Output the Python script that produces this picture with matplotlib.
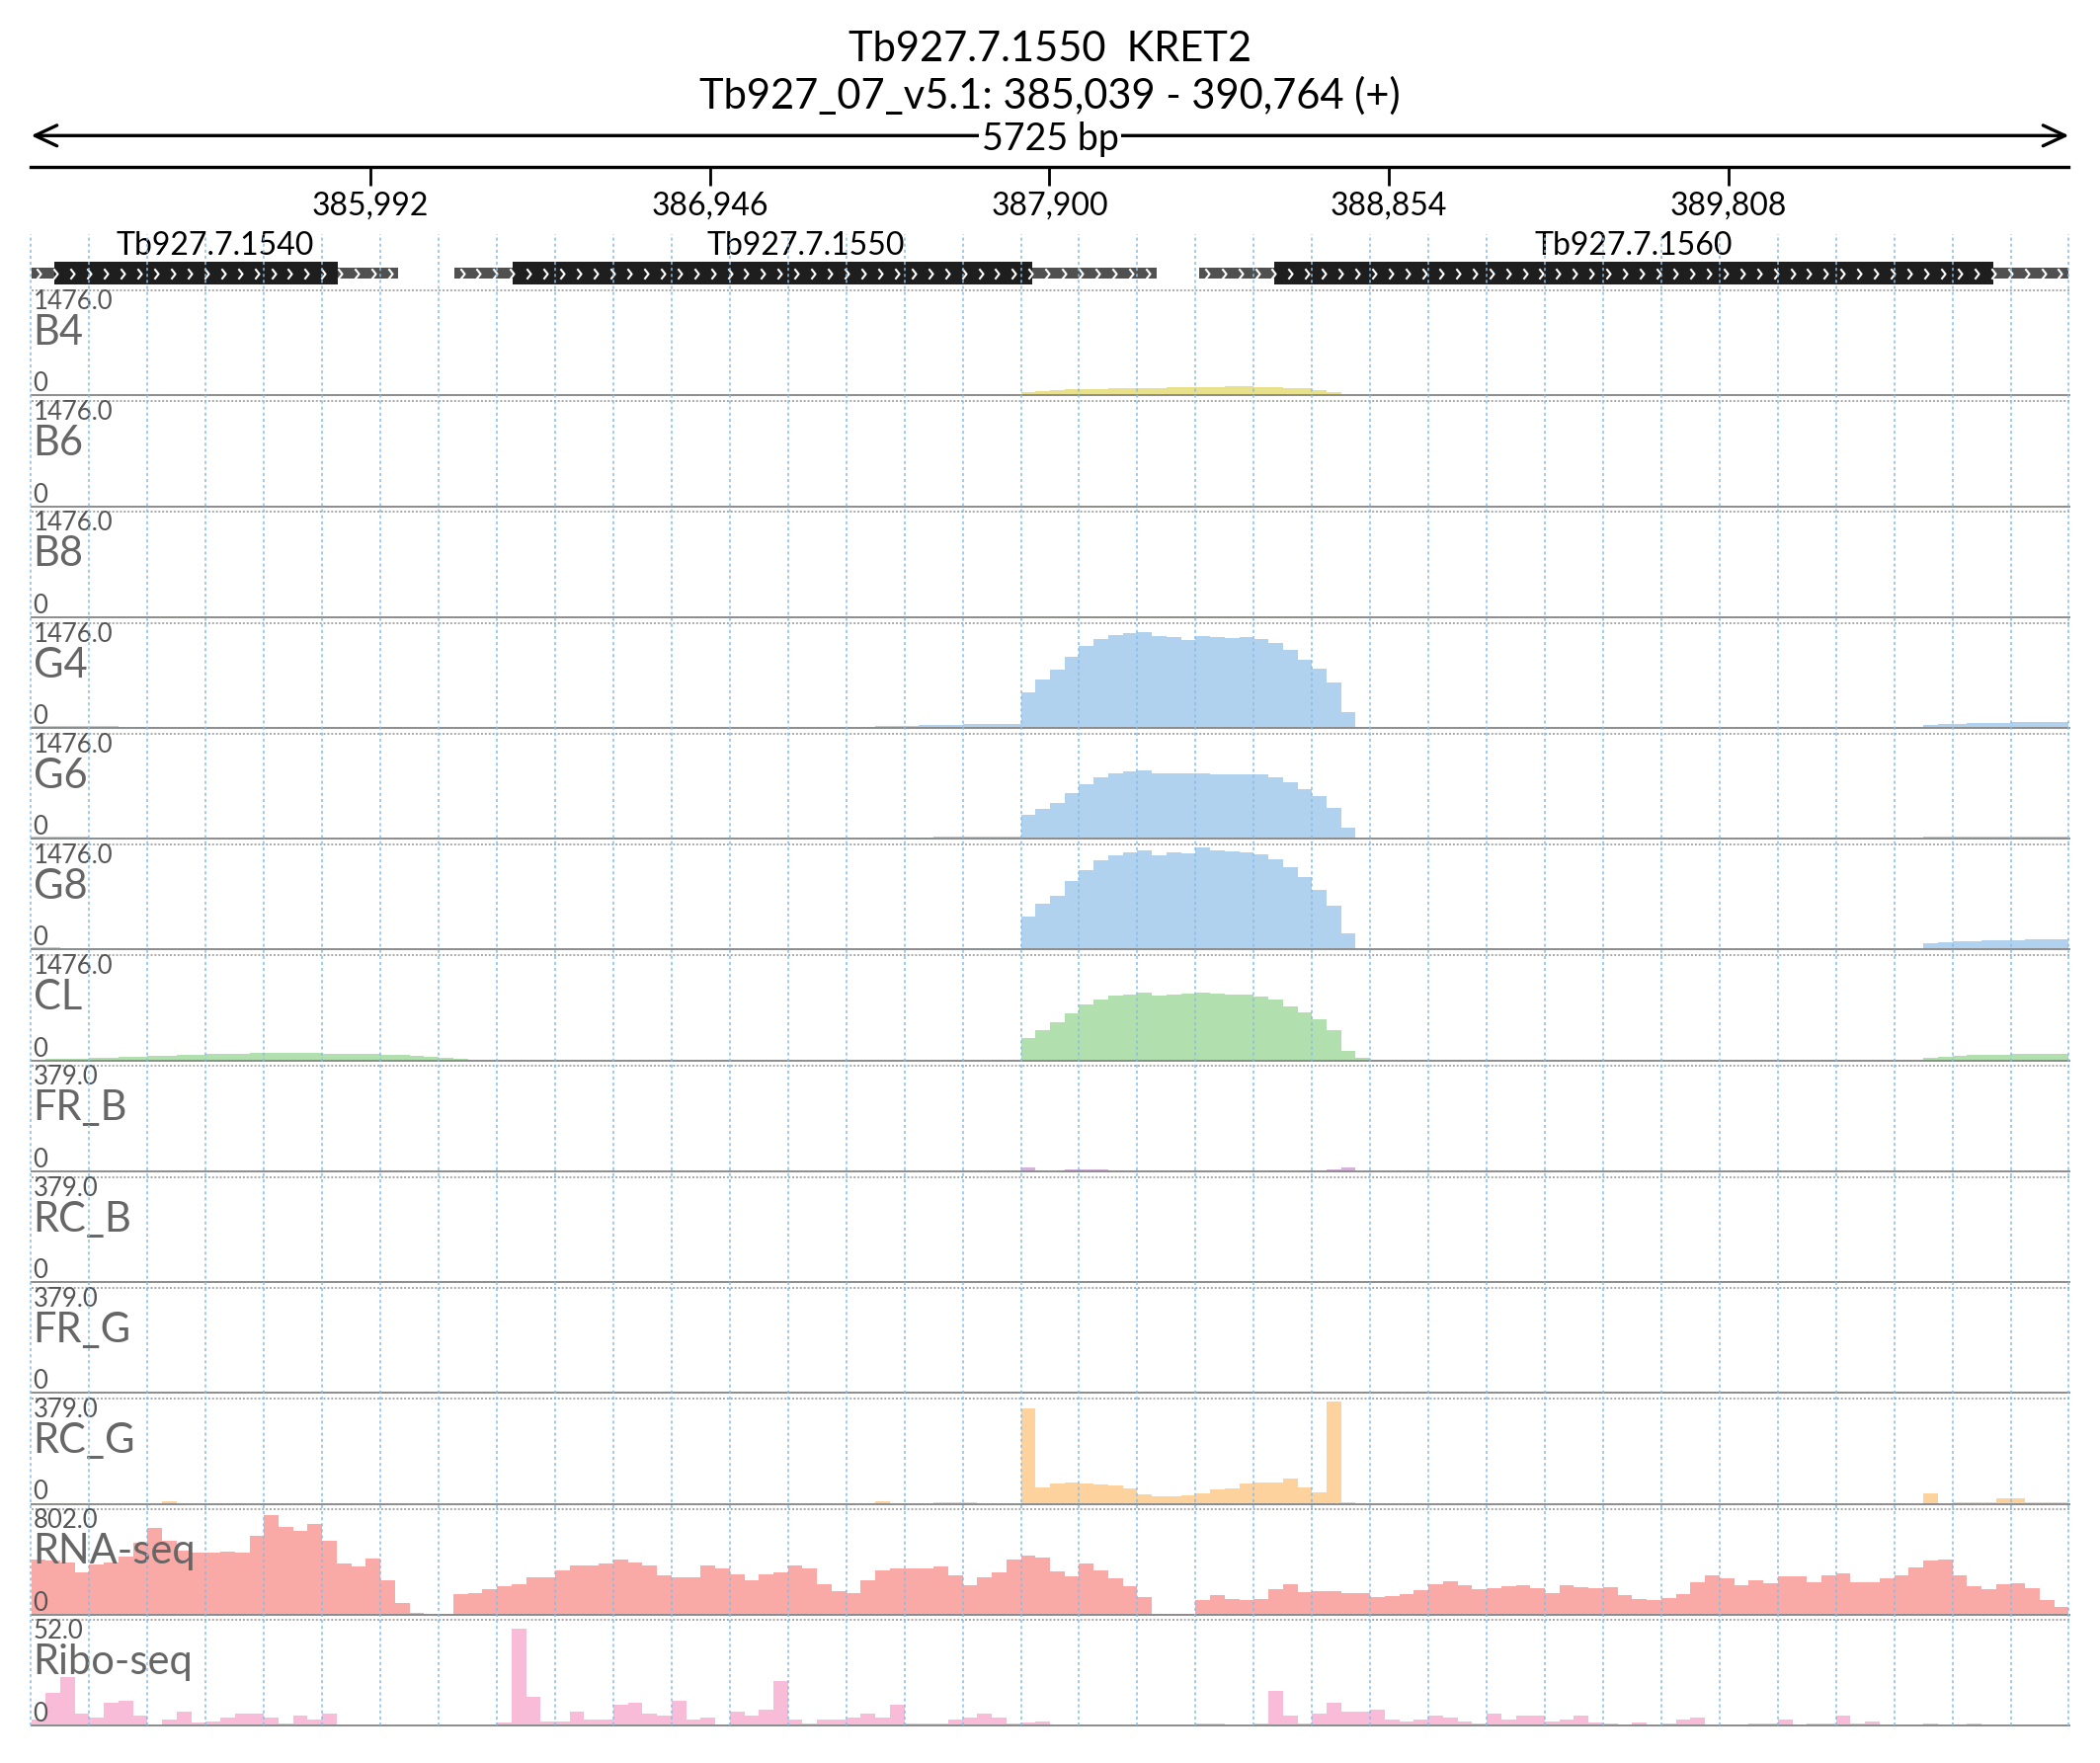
import numpy as np
import matplotlib
matplotlib.use('Agg')
import matplotlib.pyplot as plt
from matplotlib.path import Path

plt.rcParams['font.family'] = ['Lato', 'DejaVu Sans']

# region shown
chrom = 'Tb927_07_v5.1'
region_start = 385039
region_end = 390764
strand = '+'
title_gene = 'Tb927.7.1550  KRET2'
ruler_ticks = [385992, 386946, 387900, 388854, 389808]

# genes: full extent (with UTRs) and coding part
gene_names = ['Tb927.7.1540', 'Tb927.7.1550', 'Tb927.7.1560']
gene_starts = [385039, 386227, 388320]
gene_ends = [386071, 388201, 390764]
cds_starts = [385103, 386392, 388532]
cds_ends = [385900, 387852, 390552]

# coverage, 140 equal bins across the region
b4 = [4, 4, 4, 4, 4, 4, 4, 4, 3, 3, 3, 3, 2, 2, 2, 2, 2, 2, 2, 2,
      2, 2, 2, 2, 2, 2, 2, 2, 1, 1, 1, 1, 1, 1, 1, 1, 1, 1, 1, 1,
      1, 1, 1, 1, 1, 1, 1, 1, 1, 1, 1, 1, 1, 1, 1, 1, 2, 2, 3, 3,
      3, 4, 4, 5, 5, 5, 6, 6, 45, 60, 75, 85, 92, 96, 100, 103, 106, 110, 116, 121,
      123, 124, 125, 125, 124, 115, 105, 98, 80, 52, 25, 6, 2, 2, 2, 2, 1, 1, 1, 1,
      1, 1, 1, 1, 1, 1, 1, 1, 1, 1, 1, 1, 1, 1, 1, 1, 1, 1, 1, 1,
      2, 2, 2, 2, 2, 2, 2, 2, 3, 4, 6, 7, 8, 8, 9, 9, 9, 9, 8, 8]
b6 = [1, 1, 1, 1, 1, 1, 1, 1, 1, 1, 1, 1, 1, 1, 1, 1, 1, 1, 1, 1,
      1, 1, 1, 1, 1, 1, 1, 1, 1, 1, 1, 1, 1, 1, 1, 1, 1, 1, 1, 1,
      1, 1, 1, 1, 1, 1, 1, 1, 1, 1, 1, 1, 1, 1, 1, 1, 1, 1, 1, 1,
      1, 1, 1, 1, 1, 1, 1, 1, 6, 7, 8, 8, 8, 9, 9, 9, 9, 9, 9, 9,
      9, 9, 9, 9, 9, 8, 8, 7, 6, 5, 3, 1, 1, 1, 1, 1, 1, 1, 1, 1,
      1, 1, 1, 1, 1, 1, 1, 1, 1, 1, 1, 1, 1, 1, 1, 1, 1, 1, 1, 1,
      1, 1, 1, 1, 1, 1, 1, 1, 2, 3, 5, 6, 7, 7, 8, 8, 8, 8, 8, 8]
b8 = [1, 1, 1, 1, 1, 1, 1, 3, 5, 6, 6, 5, 3, 1, 1, 1, 1, 1, 1, 1,
      1, 1, 1, 1, 1, 1, 1, 1, 1, 1, 1, 1, 1, 1, 1, 1, 1, 1, 1, 1,
      1, 1, 1, 1, 1, 1, 1, 1, 1, 1, 1, 1, 1, 1, 1, 1, 1, 1, 1, 1,
      1, 1, 1, 1, 1, 1, 1, 1, 10, 12, 13, 14, 14, 14, 15, 15, 15, 15, 15, 15,
      15, 15, 15, 15, 15, 14, 13, 12, 11, 9, 6, 2, 1, 1, 1, 1, 1, 1, 1, 1,
      1, 1, 1, 1, 1, 1, 1, 1, 1, 1, 1, 1, 1, 1, 1, 1, 1, 1, 1, 1,
      1, 1, 1, 1, 1, 1, 1, 1, 1, 2, 3, 3, 4, 4, 4, 4, 4, 4, 4, 4]
g4 = [35, 35, 35, 33, 30, 25, 20, 15, 10, 8, 5, 4, 3, 3, 2, 2, 2, 2, 2, 2,
      2, 2, 2, 2, 2, 2, 2, 2, 2, 2, 2, 2, 2, 2, 2, 2, 2, 2, 2, 2,
      2, 2, 2, 2, 2, 2, 2, 2, 2, 2, 2, 2, 2, 2, 2, 2, 4, 10, 25, 32,
      35, 40, 45, 48, 50, 50, 52, 52, 500, 680, 820, 1000, 1150, 1250, 1300, 1335, 1345, 1290, 1270, 1235,
      1285, 1270, 1265, 1275, 1255, 1200, 1100, 960, 830, 640, 220, 10, 2, 2, 2, 2, 2, 2, 2, 2,
      2, 2, 2, 2, 2, 2, 2, 2, 2, 2, 2, 2, 2, 2, 2, 2, 2, 2, 2, 2,
      2, 2, 2, 2, 2, 2, 2, 3, 5, 20, 48, 55, 60, 65, 70, 75, 78, 80, 83, 86]
g6 = [30, 30, 28, 25, 20, 15, 10, 8, 6, 5, 4, 3, 3, 2, 2, 2, 2, 2, 2, 2,
      2, 2, 2, 2, 2, 2, 2, 2, 2, 2, 2, 2, 2, 2, 2, 2, 2, 2, 2, 2,
      2, 2, 2, 2, 2, 2, 2, 2, 2, 2, 2, 2, 2, 2, 2, 2, 3, 6, 12, 18,
      20, 24, 26, 28, 30, 30, 32, 32, 330, 420, 500, 640, 760, 870, 920, 940, 960, 915, 925, 915,
      915, 910, 905, 910, 905, 860, 790, 700, 600, 440, 150, 10, 2, 2, 2, 2, 2, 2, 2, 2,
      2, 2, 2, 2, 2, 2, 2, 2, 2, 2, 2, 2, 2, 2, 2, 2, 2, 2, 2, 2,
      2, 2, 2, 2, 2, 2, 2, 2, 3, 8, 25, 28, 30, 32, 34, 35, 36, 36, 35, 34]
g8 = [28, 28, 26, 22, 18, 14, 10, 8, 6, 5, 4, 3, 3, 2, 2, 2, 2, 2, 2, 2,
      2, 2, 2, 2, 2, 2, 2, 2, 2, 2, 2, 2, 2, 2, 2, 2, 2, 2, 2, 2,
      2, 2, 2, 2, 2, 2, 2, 2, 2, 2, 2, 2, 2, 2, 2, 2, 3, 5, 8, 10,
      12, 12, 14, 14, 14, 15, 15, 15, 470, 640, 760, 960, 1120, 1260, 1330, 1360, 1390, 1320, 1370, 1350,
      1430, 1390, 1375, 1360, 1335, 1270, 1160, 1020, 840, 620, 230, 15, 2, 2, 2, 2, 2, 2, 2, 2,
      2, 2, 2, 2, 2, 2, 2, 2, 2, 2, 2, 2, 2, 2, 2, 2, 2, 2, 2, 2,
      2, 2, 2, 2, 2, 2, 2, 3, 5, 20, 95, 105, 112, 120, 126, 132, 138, 142, 148, 152]
cl = [15, 20, 25, 30, 35, 42, 50, 58, 65, 72, 80, 85, 90, 95, 98, 100, 102, 104, 102, 100,
      98, 95, 92, 88, 82, 75, 65, 50, 38, 25, 12, 4, 1, 1, 1, 1, 1, 1, 1, 1,
      1, 1, 1, 1, 1, 1, 1, 1, 1, 1, 1, 1, 1, 1, 1, 1, 1, 1, 1, 1,
      1, 1, 1, 1, 1, 1, 1, 1, 320, 420, 530, 660, 780, 860, 910, 930, 950, 915, 925, 940,
      955, 935, 925, 925, 900, 850, 760, 680, 580, 420, 140, 40, 5, 1, 1, 1, 1, 1, 1, 1,
      1, 1, 1, 1, 1, 1, 1, 1, 1, 1, 1, 1, 1, 1, 1, 1, 1, 1, 1, 1,
      1, 1, 1, 1, 1, 1, 1, 1, 2, 10, 40, 55, 65, 75, 80, 85, 88, 90, 90, 88]
fr_b = [1, 1, 1, 1, 1, 1, 1, 1, 1, 1, 1, 1, 1, 1, 1, 1, 1, 1, 1, 1,
        1, 1, 1, 1, 1, 1, 1, 1, 1, 1, 1, 1, 1, 1, 1, 1, 1, 1, 1, 1,
        1, 1, 1, 1, 1, 1, 1, 1, 1, 1, 1, 1, 1, 1, 1, 1, 1, 1, 1, 1,
        1, 1, 1, 1, 1, 1, 1, 1, 15, 4, 4, 6, 6, 5, 4, 4, 3, 3, 3, 3,
        3, 3, 3, 3, 3, 3, 3, 3, 3, 8, 15, 1, 1, 1, 1, 1, 1, 1, 1, 1,
        1, 1, 1, 1, 1, 1, 1, 1, 1, 1, 1, 1, 1, 1, 1, 1, 1, 1, 1, 1,
        1, 1, 1, 1, 1, 1, 1, 1, 1, 1, 1, 1, 1, 1, 1, 1, 1, 1, 1, 1]
rc_b = [1, 1, 1, 1, 1, 1, 1, 1, 1, 1, 1, 1, 1, 1, 1, 1, 1, 1, 1, 1,
        1, 1, 1, 1, 1, 1, 1, 1, 1, 1, 1, 1, 1, 1, 1, 1, 1, 1, 1, 1,
        1, 1, 1, 1, 1, 1, 1, 1, 1, 1, 1, 1, 1, 1, 1, 1, 1, 1, 1, 1,
        1, 1, 1, 1, 1, 1, 1, 1, 1, 1, 1, 1, 1, 1, 1, 1, 1, 1, 1, 1,
        1, 1, 1, 1, 1, 1, 1, 1, 1, 1, 1, 1, 1, 1, 1, 1, 1, 1, 1, 1,
        1, 1, 1, 1, 1, 1, 1, 1, 1, 1, 1, 1, 1, 1, 1, 1, 1, 1, 1, 1,
        1, 1, 1, 1, 1, 1, 1, 1, 1, 1, 1, 1, 1, 1, 1, 1, 1, 1, 1, 1]
fr_g = [1, 1, 1, 1, 1, 1, 1, 1, 1, 1, 1, 1, 1, 1, 1, 1, 1, 1, 1, 1,
        1, 1, 1, 1, 1, 1, 1, 1, 1, 1, 1, 1, 1, 1, 1, 1, 1, 1, 1, 1,
        3, 3, 1, 1, 1, 1, 1, 1, 1, 1, 1, 1, 1, 1, 1, 1, 1, 1, 3, 3,
        1, 1, 1, 1, 1, 1, 1, 1, 5, 2, 2, 2, 2, 2, 2, 2, 2, 2, 2, 2,
        2, 2, 2, 2, 2, 2, 2, 2, 2, 2, 3, 1, 1, 1, 1, 1, 1, 1, 1, 1,
        1, 1, 1, 1, 1, 1, 1, 1, 1, 1, 1, 1, 1, 1, 1, 1, 1, 1, 1, 1,
        1, 1, 1, 1, 1, 1, 1, 1, 1, 1, 2, 2, 1, 1, 1, 1, 1, 1, 1, 1]
rc_g = [2, 2, 2, 2, 0, 0, 0, 0, 0, 9, 0, 0, 0, 0, 0, 0, 0, 0, 0, 0,
        0, 0, 0, 0, 0, 0, 0, 0, 0, 0, 0, 0, 0, 0, 0, 0, 0, 0, 0, 0,
        0, 0, 0, 0, 0, 0, 0, 0, 0, 0, 0, 0, 0, 0, 0, 0, 0, 0, 8, 0,
        0, 0, 4, 4, 4, 0, 0, 0, 345, 60, 72, 76, 74, 70, 66, 55, 35, 28, 28, 32,
        38, 52, 55, 72, 76, 75, 90, 60, 40, 370, 5, 0, 0, 0, 0, 0, 0, 0, 0, 0,
        0, 0, 0, 0, 0, 0, 0, 0, 0, 0, 0, 0, 0, 0, 0, 0, 0, 0, 0, 0,
        0, 0, 0, 0, 0, 0, 0, 0, 0, 0, 39, 2, 7, 7, 7, 20, 20, 5, 5, 4]
rna_seq = [420, 410, 400, 320, 380, 400, 440, 550, 660, 560, 490, 470, 470, 480, 475, 600, 760, 670, 640, 690,
           560, 390, 370, 425, 260, 90, 15, 4, 4, 155, 166, 197, 217, 234, 285, 285, 335, 378, 373, 393,
           423, 398, 373, 297, 285, 285, 373, 348, 310, 260, 310, 323, 373, 348, 234, 176, 166, 260, 335, 348,
           348, 348, 365, 297, 222, 285, 323, 423, 449, 436, 330, 290, 393, 335, 275, 215, 130, 8, 2, 2,
           110, 150, 121, 110, 120, 190, 234, 170, 176, 176, 166, 160, 134, 140, 155, 184, 234, 255, 220, 190,
           200, 215, 225, 200, 160, 225, 205, 200, 205, 150, 115, 110, 125, 155, 250, 300, 280, 225, 265, 240,
           295, 295, 245, 300, 315, 250, 250, 280, 300, 360, 410, 420, 300, 215, 190, 230, 240, 200, 110, 55]
ribo_seq = [3, 16, 24, 6, 4, 11, 12, 5, 0.5, 3, 7, 1.5, 2, 4, 6, 6, 4, 1, 5, 3,
            6, 0, 0, 0, 0, 0, 0, 0, 0, 0, 0, 0, 1.5, 48, 14, 2, 2, 7, 3, 3,
            10, 11, 6, 5, 12, 3, 4, 0.3, 7, 5, 8, 22, 3, 1, 3, 3, 4, 6, 4, 10,
            1, 1, 1, 3, 4, 6, 4, 1, 1.5, 2, 0, 0, 0, 0, 0, 0, 0, 0, 0, 0,
            0.7, 0.7, 0, 0, 1, 17, 5, 1, 6, 11, 7, 7, 8, 3, 2, 3, 5, 4, 2, 1,
            6, 3, 5, 5, 2, 3, 5, 1.5, 1, 0.5, 1.5, 0, 1, 3, 4, 0.5, 0, 0.5, 1, 1,
            3, 0, 1, 1, 5, 1, 2, 0, 0, 0.5, 1, 0, 0.5, 1, 0, 0, 0, 0, 0, 0]

track_names = ['B4', 'B6', 'B8', 'G4', 'G6', 'G8', 'CL', 'FR_B', 'RC_B', 'FR_G', 'RC_G',
               'RNA-seq', 'Ribo-seq']
track_values = [b4, b6, b8, g4, g6, g8, cl, fr_b, rc_b, fr_g, rc_g, rna_seq, ribo_seq]
track_max = [1476.0, 1476.0, 1476.0, 1476.0, 1476.0, 1476.0, 1476.0,
             379.0, 379.0, 379.0, 379.0, 802.0, 52.0]
track_colors = ['#e8e08a', '#e8e08a', '#e8e08a', '#b0d2ee', '#b0d2ee', '#b0d2ee', '#b2dfae',
                '#d4b3da', '#d4b3da', '#d4b3da', '#fdd29c', '#f9aaa6', '#f8bcd8']

for v in track_values:
    assert len(v) == 140, len(v)

W, H = 2126, 1785
X0, X1 = 31.5, 2094.5


def box(top, bottom):
    # pixel rows (from top) -> figure fraction rect spanning the region width
    return [X0 / W, 1 - bottom / H, (X1 - X0) / W, (bottom - top) / H]


fig = plt.figure(figsize=(W / 100, H / 100), dpi=100)

fig.text(0.5, 1 - 61.7 / H, title_gene, ha='center', va='baseline', fontsize=30)
fig.text(0.5, 1 - 110 / H, f'{chrom}: {region_start:,} - {region_end:,} ({strand})',
         ha='center', va='baseline', fontsize=30)

# ruler with the span arrow
ax = fig.add_axes(box(125, 169.3))
ax.set_xlim(region_start, region_end)
ax.set_ylim(0, 1)
for s in ['top', 'left', 'right']:
    ax.spines[s].set_visible(False)
ax.spines['bottom'].set_linewidth(2.4)
ax.patch.set_visible(False)
ax.set_yticks([])
ax.set_xticks(ruler_ticks)
ax.set_xticklabels([f'{t:,}' for t in ruler_ticks], fontsize=23)
ax.tick_params(axis='x', length=13.5, width=2, pad=3.6)
ax.annotate('', xy=(region_end, 0.7223), xytext=(region_start, 0.7223),
            xycoords=('data', 'axes fraction'), textcoords=('data', 'axes fraction'),
            arrowprops=dict(arrowstyle='<->,head_length=1.6,head_width=0.75', lw=2.4,
                            color='black', shrinkA=0, shrinkB=0))
ax.text((region_start + region_end) / 2, 0.397, f'{region_end - region_start} bp',
        ha='center', va='baseline', fontsize=27, zorder=5,
        bbox=dict(facecolor='white', edgecolor='none', pad=2))

# gene track
gax = fig.add_axes(box(232, 294))
gax.set_xlim(region_start, region_end)
gax.set_ylim(0, 62)
gax.axis('off')
gene_y = 17.3
gax.barh(gene_y, np.subtract(gene_ends, gene_starts), left=gene_starts, height=11, color='#505050')
gax.barh(gene_y, np.subtract(cds_ends, cds_starts), left=cds_starts, height=23.3, color='#1e1e1e')
chevron = Path([(-0.4, 1), (0.4, 0), (-0.4, -1)], [Path.MOVETO, Path.LINETO, Path.LINETO])
for name, s, e in zip(gene_names, gene_starts, gene_ends):
    xs = np.arange(s + 22, e - 10, 47)
    gax.plot(xs, np.full(len(xs), gene_y), ls='none', marker=chevron, ms=7.5,
             mec='white', mfc='none', mew=1.5)
    gax.text((max(s, region_start) + min(e, region_end)) / 2, 35.7, name,
             ha='center', va='baseline', fontsize=23)

# coverage tracks
edges = np.linspace(region_start, region_end, len(b4) + 1)
for i, (name, vals, mx, col) in enumerate(zip(track_names, track_values, track_max, track_colors)):
    top = 294 + 112.2 * i
    tax = fig.add_axes(box(top, top + 106.5))
    tax.stairs(vals, edges, fill=True, color=col, lw=0)
    tax.set_xlim(region_start, region_end)
    tax.set_ylim(0, mx)
    tax.axis('off')
    tax.axhline(mx, color='#a8a8a8', lw=1.4, ls=(0, (1, 1)), clip_on=False)
    tax.axhline(0, color='#8c8c8c', lw=1.4, clip_on=False)
    tax.text(0.001, 0.8216, f'{mx:.1f}', transform=tax.transAxes, fontsize=18.5,
             color='#555555', va='baseline')
    tax.text(0.001, 0.4836, name, transform=tax.transAxes, fontsize=30,
             color='#666666', va='baseline')
    tax.text(0.001, 0.0394, '0', transform=tax.transAxes, fontsize=18.5,
             color='#555555', va='baseline')

# vertical guide lines over everything
gridax = fig.add_axes(box(237, 1747))
gridax.set_xlim(region_start, region_end)
gridax.set_ylim(0, 1)
gridax.axis('off')
for x in np.linspace(region_start, region_end, 36):
    gridax.axvline(x, color='#86bde8', lw=1.1, ls=(0, (2, 2)), clip_on=False)

fig.savefig('out.png', dpi=100)
